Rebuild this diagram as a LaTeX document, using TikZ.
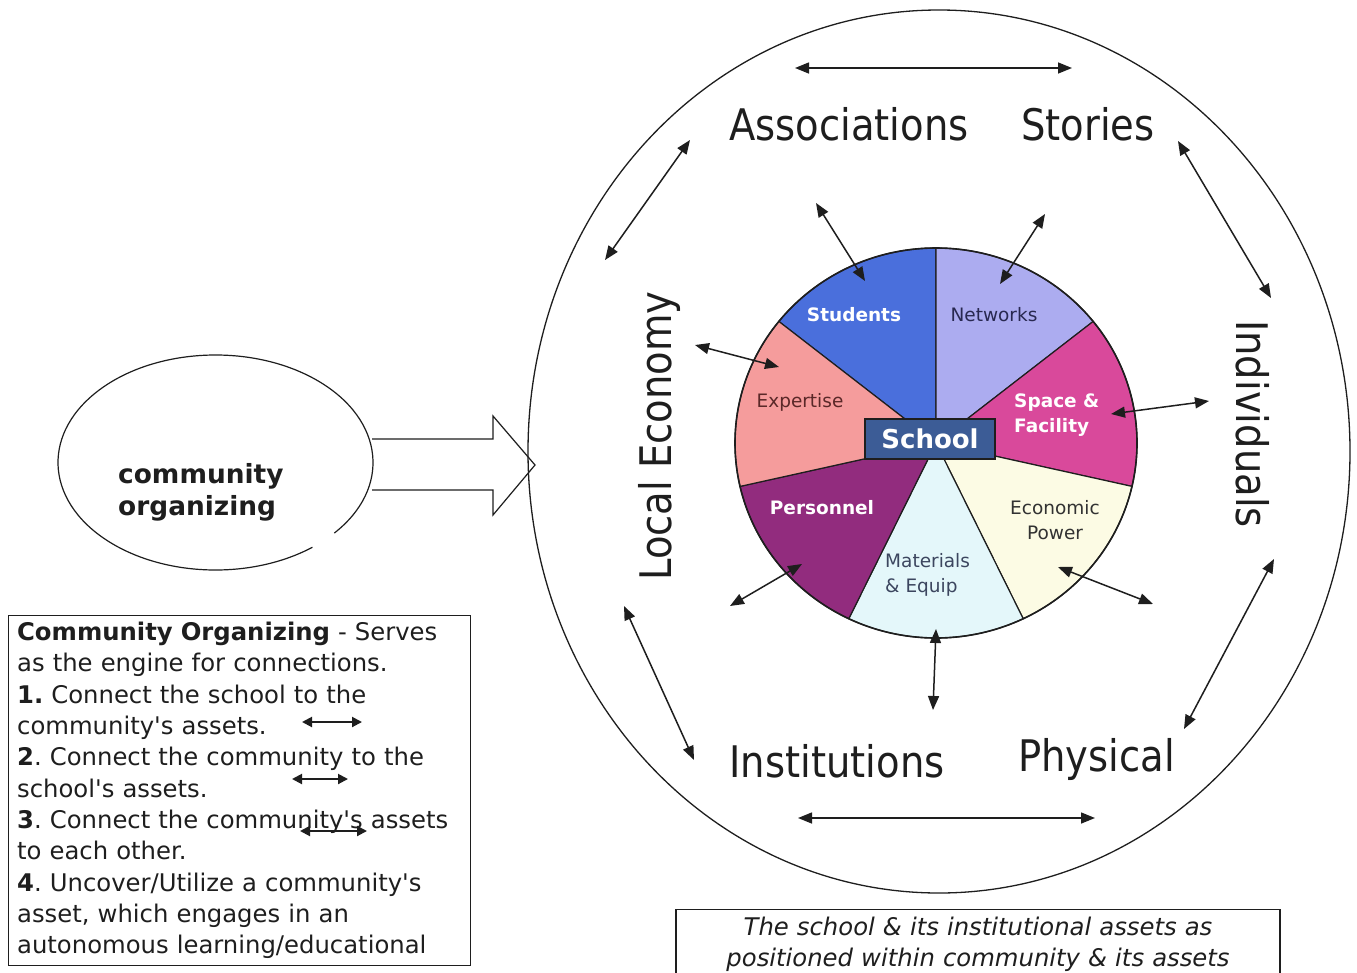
\documentclass[tikz,border=0pt]{standalone}
\usepackage{fontspec}
\setmainfont{DejaVu Sans}
\newfontfamily\bigfont[FakeStretch=0.885]{DejaVu Sans}
\usetikzlibrary{arrows.meta,shapes.geometric,calc}
\definecolor{cStud}{HTML}{4A6FDC}
\definecolor{cNet}{HTML}{ACACF0}
\definecolor{cSpace}{HTML}{D9499B}
\definecolor{cEcon}{HTML}{FCFBE4}
\definecolor{cMat}{HTML}{E4F7FA}
\definecolor{cPers}{HTML}{922C7E}
\definecolor{cExp}{HTML}{F59C9C}
\definecolor{cSchool}{HTML}{3C5C96}
\definecolor{cInk}{HTML}{1E1E1E}
\tikzset{
  dbl/.style={{Triangle[length=14pt,width=11pt]}-{Triangle[length=14pt,width=11pt]}, line width=1.5pt, draw=cInk},
  smalldbl/.style={{Triangle[length=10pt,width=10pt]}-{Triangle[length=10pt,width=10pt]}, line width=2pt, draw=cInk},
  biglab/.style={font=\bigfont\fontsize{43.5}{50}\selectfont, inner sep=0, anchor=base, text=cInk},
  wedgelab/.style={font=\fontsize{18.5}{24.5}\selectfont, inner sep=0},
}
\frenchspacing
\begin{document}
\begin{tikzpicture}[x=1pt,y=1pt]
\path[use as bounding box, fill=white] (0,0) rectangle (1357,-972);

% ---- left ellipse: community organizing
\node[ellipse, minimum width=315, minimum height=215, inner sep=0] (co) at (215.5,-462.5) {};
\draw[line width=1.2pt, cInk] (co.center) ++(-41:157.5 and 107.5)
  arc[start angle=-41, end angle=308, x radius=157.5, y radius=107.5];
\node[anchor=north west, inner sep=0, align=left, text=cInk,
      font=\bfseries\fontsize{26.4}{32}\selectfont] (cot) at (118,-463) {community\\organizing};

% ---- outer community ellipse
\node[ellipse, minimum width=822, minimum height=883, inner sep=0] (comm) at (939,-451.5) {};
\coordinate (bigtip) at (535,-465);
\draw[line width=1.2pt, cInk] ($(co.east)+(-1,23.5)$) -- (493,-439) -- (493,-416) -- (bigtip)
  -- (493,-515) -- (493,-490) -- ($(co.east)+(-1,-27.5)$);
\draw[line width=1.3pt, cInk] (comm.center) ellipse[x radius=411, y radius=441.5];

% ---- pie
\node[ellipse, minimum width=402, minimum height=390, inner sep=0] (pie) at (936,-443) {};
\foreach \s/\e/\c in {90/141.43/cStud, 38.57/90/cNet, -12.86/38.57/cSpace, -64.29/-12.86/cEcon,
                      -115.71/-64.29/cMat, -167.14/-115.71/cPers, -218.57/-167.14/cExp}
  \filldraw[fill=\c, draw=cInk, line width=1.2pt] (pie.center) -- ++(\s:201 and 195)
    arc[start angle=\s, end angle=\e, x radius=201, y radius=195] -- cycle;
\draw[line width=1.6pt, cInk] (pie.center) ellipse[x radius=201, y radius=195];

\node[wedgelab, text=white, font=\bfseries\fontsize{18.5}{24.5}\selectfont] (lstud) at (854,-315) {Students};
\node[wedgelab, text={rgb,255:red,40;green,40;blue,80}] (lnet) at (994,-315) {Networks};
\node[wedgelab, text={rgb,255:red,90;green,40;blue,40}] (lexp) at (800,-402) {Expertise};
\node[wedgelab, text=white, align=left, anchor=west, font=\bfseries\fontsize{18.5}{24.5}\selectfont] (lspace) at (1014,-415) {Space \&\\Facility};
\node[wedgelab, text=white, font=\bfseries\fontsize{18.5}{24.5}\selectfont] (lpers) at (822,-508) {Personnel};
\node[wedgelab, text={rgb,255:red,50;green,50;blue,50}, align=center] (lecon) at (1055,-520) {Economic\\Power};
\node[wedgelab, text={rgb,255:red,60;green,70;blue,95}, align=left, anchor=west] (lmat) at (885,-575) {Materials\\\& Equip};

\node[draw=cInk, fill=cSchool, line width=1.5pt, minimum width=130, minimum height=40, inner sep=0,
      text=white, font=\bfseries\fontsize{26}{30}\selectfont] (school) at (930,-439) {School};

% ---- outer labels
\node[biglab] (assoc) at (849,-140) {Associations};
\node[biglab] (stor) at (1088,-140) {Stories};
\node[biglab] (inst) at (837,-777) {Institutions};
\node[biglab] (phys) at (1096.5,-771) {Physical};
\node[biglab, rotate=90] (loc) at (671,-436) {Local Economy};
\node[biglab, rotate=-90] (indiv) at (1236,-424) {Individuals};

% ---- arrow end points
\coordinate (ta1) at (795,-68);   \coordinate (ta2) at (1072,-68);
\coordinate (ba1) at (798,-818);  \coordinate (ba2) at (1095,-818);
\coordinate (ul1) at (690,-140);  \coordinate (ul2) at (605,-260);
\coordinate (ll1) at (624,-606);  \coordinate (ll2) at (694,-760);
\coordinate (ur1) at (1178,-141); \coordinate (ur2) at (1271,-298);
\coordinate (lr1) at (1274,-559); \coordinate (lr2) at (1184,-729);
\coordinate (st1) at (816,-203);  \coordinate (st2) at (865,-281);
\coordinate (nw1) at (1045,-214); \coordinate (nw2) at (1000,-284);
\coordinate (ex1) at (695,-345);  \coordinate (ex2) at (779,-367);
\coordinate (sp1) at (1209,-401); \coordinate (sp2) at (1111,-414);
\coordinate (pe1) at (730,-606);  \coordinate (pe2) at (802,-564);
\coordinate (ec1) at (1058,-567); \coordinate (ec2) at (1153,-604);
\coordinate (ma1) at (936,-629);  \coordinate (ma2) at (933,-710);

\foreach \a/\b in {ta1/ta2, ba1/ba2, ul1/ul2, ll1/ll2, ur1/ur2, lr1/lr2,
                   st1/st2, nw1/nw2, ex1/ex2, sp1/sp2, pe1/pe2, ec1/ec2, ma1/ma2}
  \draw[dbl] (\a) -- (\b);

% ---- text box
\node[draw=cInk, line width=1.3pt, anchor=north west, inner xsep=8.5, inner ysep=6.5,
      text width=445, align=left, text=cInk, font=\fontsize{24.3}{31.33}\selectfont] (tb) at (8,-615)
{\textbf{Community Organizing} - Serves\\
as the engine for connections.\\
\textbf{1.} Connect the school to the\\
community\textquotesingle s assets.\\
\textbf{2}. Connect the community to the\\
school\textquotesingle s assets.\\
\textbf{3}. Connect the community\textquotesingle s assets\\
to each other.\\
\textbf{4}. Uncover/Utilize a community\textquotesingle s\\
asset, which engages in an\\
autonomous learning/educational};

\coordinate (sa1) at (302,-722); \coordinate (sa2) at (362,-722);
\coordinate (sb1) at (292,-779); \coordinate (sb2) at (348,-779);
\coordinate (sc1) at (300,-831); \coordinate (sc2) at (367,-831);
\draw[smalldbl] (sa1) -- (sa2);
\draw[smalldbl] (sb1) -- (sb2);
\draw[smalldbl] (sc1) -- (sc2);

% ---- caption box
\node[draw=cInk, line width=1.3pt, anchor=north, inner xsep=7, inner ysep=7.5, text width=590,
      align=center, text=cInk, font=\itshape\fontsize{24.3}{31}\selectfont] (cap) at (978,-909)
{The school \& its institutional assets as\\positioned within community \& its assets};
\end{tikzpicture}
\end{document}
